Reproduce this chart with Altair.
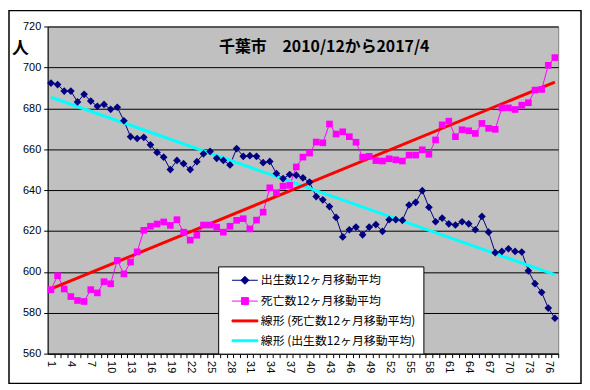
import altair as alt
import pandas as pd

months = list(range(1, 78))
births = [692.3, 691.6, 688.4, 688.4, 683.1, 686.8, 683.5, 681.0, 681.9, 679.5,
          680.5, 673.9, 666.1, 665.2, 665.8, 662.1, 658.4, 656.1, 650.0, 654.5,
          652.9, 650.0, 653.9, 657.7, 658.9, 655.5, 654.5, 652.3, 660.3, 656.5,
          656.8, 656.5, 653.4, 654.0, 648.1, 645.6, 647.6, 647.3, 646.0, 643.9,
          636.8, 635.2, 631.9, 626.6, 617.1, 620.6, 621.9, 618.1, 621.9, 623.1,
          619.8, 625.5, 625.5, 625.2, 632.7, 634.0, 639.7, 631.6, 624.5, 626.3,
          623.5, 622.9, 624.5, 623.5, 620.6, 627.1, 619.4, 609.4, 610.0, 611.3,
          610.0, 609.7, 600.5, 594.2, 590.0, 582.3, 577.3]
deaths = [591.3, 598.1, 591.6, 587.9, 586.0, 585.5, 591.3, 589.7, 595.2, 594.2,
          605.6, 599.0, 604.8, 609.8, 620.3, 622.3, 623.4, 624.4, 622.7, 625.5,
          619.4, 615.5, 617.9, 622.9, 622.9, 621.9, 619.4, 622.3, 625.2, 626.0,
          621.0, 625.3, 629.2, 641.1, 638.7, 641.9, 642.3, 651.3, 656.1, 658.1,
          663.5, 663.1, 672.3, 667.4, 668.5, 666.1, 663.4, 656.1, 656.5, 654.4,
          654.2, 655.3, 654.8, 654.2, 657.1, 657.1, 659.7, 657.5, 664.5, 671.9,
          673.7, 666.1, 669.5, 669.0, 667.7, 672.6, 670.2, 669.7, 680.2, 680.2,
          679.4, 681.5, 682.7, 688.9, 689.2, 701.0, 704.8]

B = "出生数12ヶ月移動平均"
D = "死亡数12ヶ月移動平均"
TD = "線形 (死亡数12ヶ月移動平均)"
TB = "線形 (出生数12ヶ月移動平均)"
series_names = [B, D, TD, TB]
series_colors = ["#000080", "#FF00FF", "#FF0000", "#00FFFF"]
legend_shapes = [
    "M-2,0L2,0M0,-0.62L0.62,0L0,0.62L-0.62,0Z",
    "M-2,0L2,0M-0.54,-0.54L0.54,-0.54L0.54,0.54L-0.54,0.54Z",
    "M-2,-0.15L2,-0.15L2,0.15L-2,0.15Z",
    "M-2,-0.15L2,-0.15L2,0.15L-2,0.15Z",
]
legend_widths = [1, 1, 1, 1]
y_ticks = list(range(560, 721, 20))
title_text = "千葉市　2010/12から2017/4"
y_title = "人"

df = pd.DataFrame({
    "i": months + months,
    "value": births + deaths,
    "series": [B] * len(births) + [D] * len(deaths),
})

W, H = 515, 330
JP = "Noto Sans CJK JP"
half = W / len(months) / 2

x_enc = alt.X(
    "i:Q",
    scale=alt.Scale(domain=[0.5, len(months) + 0.5], nice=False, zero=False),
    axis=alt.Axis(
        values=months,
        labelExpr="(datum.value - 1) % 3 == 0 ? datum.label : ''",
        labelAngle=90, labelOverlap=False, tickOffset=half, labelOffset=-half,
        grid=False, domainColor="black", tickColor="black", tickSize=4,
        labelFont="Liberation Sans", labelFontSize=11, labelColor="black",
        labelPadding=3, title=None,
    ),
)
y_enc = alt.Y(
    "value:Q",
    scale=alt.Scale(domain=[560, 720], nice=False, zero=False),
    axis=alt.Axis(
        values=y_ticks, grid=True, gridColor="black", gridWidth=1, gridOpacity=1,
        domainColor="black", tickColor="black", tickSize=4,
        labelFont="Liberation Sans", labelFontSize=11, labelColor="black",
        labelPadding=3, title=y_title, titleAngle=0, titleX=-28, titleY=22,
        titleFont=JP, titleFontSize=17, titleFontWeight="bold", titleColor="black",
        titleAlign="center", titleBaseline="middle",
    ),
)


def mk_legend():
    return alt.Legend(
        title=None, orient="none", legendX=172, legendY=242,
        fillColor="white", strokeColor="black", padding=7,
        labelFont=JP, labelFontSize=12, labelColor="black", labelLimit=0,
        symbolSize=169, rowPadding=7, symbolOffset=13, labelOffset=9,
        symbolOpacity=1,
    )


color_scale = alt.Scale(domain=series_names, range=series_colors)
color_enc = alt.Color("series:N", scale=color_scale, legend=mk_legend())

one = alt.Data(values=[{}])
border = alt.Chart(one).mark_rect(fill="transparent", stroke="black", strokeWidth=1.5).encode(
    x=alt.value(-39), x2=alt.value(W + 23), y=alt.value(-16), y2=alt.value(H + 30))

lines = alt.Chart(df).mark_line(strokeWidth=1).encode(x=x_enc, y=y_enc, color=color_enc)

trends = alt.Chart(df).transform_regression(
    "i", "value", groupby=["series"]
).transform_calculate(
    series="'線形 (' + datum.series + ')'"
).mark_line(strokeWidth=3).encode(x=x_enc, y=y_enc, color=color_enc)

pts_b = alt.Chart(df).transform_filter(alt.datum.series == B).mark_point(
    shape="diamond", filled=True, size=60, opacity=1).encode(x=x_enc, y=y_enc, color=color_enc)
pts_d = alt.Chart(df).transform_filter(alt.datum.series == D).mark_point(
    shape="square", filled=True, size=45, opacity=1).encode(x=x_enc, y=y_enc, color=color_enc)

legend_key = alt.Chart(df).mark_point(filled=True, opacity=0).encode(
    x=x_enc, y=y_enc, color=color_enc,
    stroke=alt.Stroke("series:N", scale=alt.Scale(domain=series_names, range=series_colors),
                      legend=mk_legend()),
    shape=alt.Shape("series:N", scale=alt.Scale(domain=series_names, range=legend_shapes),
                    legend=mk_legend()),
    strokeWidth=alt.StrokeWidth("series:N", scale=alt.Scale(domain=series_names, range=legend_widths),
                                legend=mk_legend()),
)

title = alt.Chart(one).mark_text(font=JP, fontSize=16, fontWeight="bold", color="black").encode(
    x=alt.value(279), y=alt.value(21), text=alt.value(title_text))

chart = alt.layer(border, lines, trends, pts_b, pts_d, legend_key, title).properties(
    width=W, height=H,
    padding={"left": 40, "top": 17, "right": 24, "bottom": 31},
    autosize=alt.AutoSizeParams(type="none"),
    background="white",
).configure_view(fill="#C0C0C0", stroke="#808080", strokeWidth=1)

chart.save("out.html", embed_options={"renderer": "svg", "actions": False})
